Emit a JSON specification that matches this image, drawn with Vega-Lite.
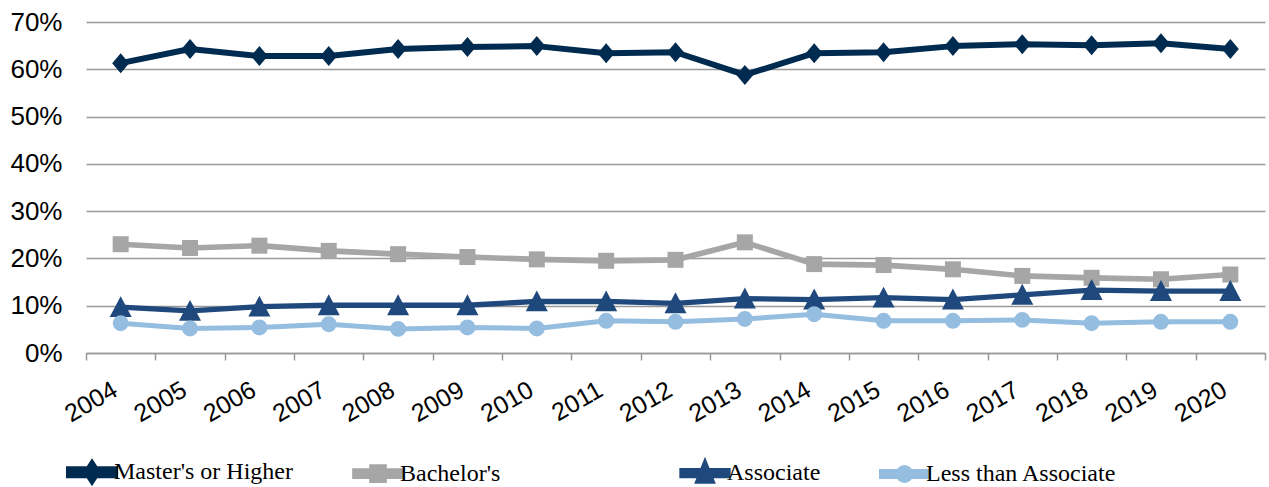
{
  "$schema": "https://vega.github.io/schema/vega-lite/v6.json",
  "autosize": {"type": "none"},
  "padding": {"left": 86, "top": 22, "right": 4, "bottom": 134},
  "width": 1179,
  "height": 331,
  "background": "white",
  "config": {"view": {"stroke": null}},
  "data": {"values": [
    {"year": 2004, "series": "Master's or Higher", "value": 0.613},
    {"year": 2005, "series": "Master's or Higher", "value": 0.643},
    {"year": 2006, "series": "Master's or Higher", "value": 0.628},
    {"year": 2007, "series": "Master's or Higher", "value": 0.628},
    {"year": 2008, "series": "Master's or Higher", "value": 0.643},
    {"year": 2009, "series": "Master's or Higher", "value": 0.647},
    {"year": 2010, "series": "Master's or Higher", "value": 0.649},
    {"year": 2011, "series": "Master's or Higher", "value": 0.634},
    {"year": 2012, "series": "Master's or Higher", "value": 0.636},
    {"year": 2013, "series": "Master's or Higher", "value": 0.588},
    {"year": 2014, "series": "Master's or Higher", "value": 0.634},
    {"year": 2015, "series": "Master's or Higher", "value": 0.636},
    {"year": 2016, "series": "Master's or Higher", "value": 0.649},
    {"year": 2017, "series": "Master's or Higher", "value": 0.653},
    {"year": 2018, "series": "Master's or Higher", "value": 0.651},
    {"year": 2019, "series": "Master's or Higher", "value": 0.655},
    {"year": 2020, "series": "Master's or Higher", "value": 0.643},
    {"year": 2004, "series": "Bachelor's", "value": 0.230},
    {"year": 2005, "series": "Bachelor's", "value": 0.222},
    {"year": 2006, "series": "Bachelor's", "value": 0.227},
    {"year": 2007, "series": "Bachelor's", "value": 0.216},
    {"year": 2008, "series": "Bachelor's", "value": 0.209},
    {"year": 2009, "series": "Bachelor's", "value": 0.203},
    {"year": 2010, "series": "Bachelor's", "value": 0.198},
    {"year": 2011, "series": "Bachelor's", "value": 0.195},
    {"year": 2012, "series": "Bachelor's", "value": 0.197},
    {"year": 2013, "series": "Bachelor's", "value": 0.234},
    {"year": 2014, "series": "Bachelor's", "value": 0.188},
    {"year": 2015, "series": "Bachelor's", "value": 0.186},
    {"year": 2016, "series": "Bachelor's", "value": 0.177},
    {"year": 2017, "series": "Bachelor's", "value": 0.163},
    {"year": 2018, "series": "Bachelor's", "value": 0.159},
    {"year": 2019, "series": "Bachelor's", "value": 0.156},
    {"year": 2020, "series": "Bachelor's", "value": 0.166},
    {"year": 2004, "series": "Associate", "value": 0.097},
    {"year": 2005, "series": "Associate", "value": 0.089},
    {"year": 2006, "series": "Associate", "value": 0.098},
    {"year": 2007, "series": "Associate", "value": 0.101},
    {"year": 2008, "series": "Associate", "value": 0.101},
    {"year": 2009, "series": "Associate", "value": 0.101},
    {"year": 2010, "series": "Associate", "value": 0.109},
    {"year": 2011, "series": "Associate", "value": 0.109},
    {"year": 2012, "series": "Associate", "value": 0.105},
    {"year": 2013, "series": "Associate", "value": 0.115},
    {"year": 2014, "series": "Associate", "value": 0.113},
    {"year": 2015, "series": "Associate", "value": 0.117},
    {"year": 2016, "series": "Associate", "value": 0.113},
    {"year": 2017, "series": "Associate", "value": 0.123},
    {"year": 2018, "series": "Associate", "value": 0.133},
    {"year": 2019, "series": "Associate", "value": 0.131},
    {"year": 2020, "series": "Associate", "value": 0.131},
    {"year": 2004, "series": "Less than Associate", "value": 0.063},
    {"year": 2005, "series": "Less than Associate", "value": 0.052},
    {"year": 2006, "series": "Less than Associate", "value": 0.054},
    {"year": 2007, "series": "Less than Associate", "value": 0.061},
    {"year": 2008, "series": "Less than Associate", "value": 0.051},
    {"year": 2009, "series": "Less than Associate", "value": 0.054},
    {"year": 2010, "series": "Less than Associate", "value": 0.052},
    {"year": 2011, "series": "Less than Associate", "value": 0.068},
    {"year": 2012, "series": "Less than Associate", "value": 0.066},
    {"year": 2013, "series": "Less than Associate", "value": 0.072},
    {"year": 2014, "series": "Less than Associate", "value": 0.082},
    {"year": 2015, "series": "Less than Associate", "value": 0.068},
    {"year": 2016, "series": "Less than Associate", "value": 0.068},
    {"year": 2017, "series": "Less than Associate", "value": 0.070},
    {"year": 2018, "series": "Less than Associate", "value": 0.063},
    {"year": 2019, "series": "Less than Associate", "value": 0.066},
    {"year": 2020, "series": "Less than Associate", "value": 0.066}
  ]},
  "encoding": {
    "x": {
      "field": "year", "type": "ordinal", "bandPosition": 0.5,
      "scale": {"type": "band", "paddingInner": 0, "paddingOuter": 0},
      "axis": {
        "title": null, "labelAngle": -30, "labelFont": "Liberation Sans", "labelFontSize": 25,
        "labelColor": "#000000", "tickBand": "extent", "tickColor": "#999999", "tickSize": 7,
        "tickWidth": 1.5, "domainColor": "#999999", "domainWidth": 1.5, "grid": false,
        "labelPadding": 17, "labelOffset": -12
      }
    },
    "y": {
      "field": "value", "type": "quantitative",
      "scale": {"domain": [0, 0.7], "nice": false},
      "axis": {
        "title": null, "values": [0, 0.1, 0.2, 0.3, 0.4, 0.5, 0.6, 0.7], "format": ".0%",
        "domain": false, "ticks": false, "labelPadding": 24, "labelFont": "Liberation Sans",
        "labelFontSize": 26, "labelColor": "#000000", "gridColor": "#999999", "gridWidth": 1.5
      }
    }
  },
  "layer": [
    {
      "mark": {"type": "line", "strokeCap": "round", "strokeJoin": "round"},
      "encoding": {
        "color": {
          "field": "series", "type": "nominal",
          "scale": {"domain": ["Master's or Higher", "Bachelor's", "Associate", "Less than Associate"],
                    "range": ["#002b50", "#a6a6a6", "#1f497d", "#95bde0"]},
          "legend": {
            "orient": "none", "legendX": -20, "legendY": 424, "direction": "horizontal",
            "title": null, "padding": 0, "labelFont": "Liberation Serif", "labelFontSize": 24,
            "labelColor": "#000000", "labelLimit": 500, "symbolSize": 2116, "labelOffset": -4,
            "columnPadding": 50,
            "labelExpr": "indexof(datum.label, 'Bach') == 0 ? datum.label + '\u00a0\u00a0\u00a0\u00a0\u00a0\u00a0\u00a0\u00a0\u00a0\u00a0\u00a0\u00a0\u00a0\u00a0\u00a0\u00a0\u00a0\u00a0\u00a0\u00a0\u200d' : datum.label",
            "encode": {
              "symbols": {
                "update": {
                  "shape": {"signal": "indexof(datum.value, 'Master') == 0 ? 'M-1,-0.13H1V0.13H-1Z M0,-0.37L0.24,0L0,0.37L-0.24,0Z' : indexof(datum.value, 'Bach') == 0 ? 'M-1,-0.11H1V0.11H-1Z M-0.26,-0.28H0.26V0.28H-0.26Z' : datum.value == 'Associate' ? 'M-1,-0.11H1V0.11H-1Z M0,-0.4L0.3,0.35L-0.3,0.35Z' : 'M-1,-0.11H1V0.11H-1Z M-0.28,0A0.28,0.28 0 1,1 0.28,0A0.28,0.28 0 1,1 -0.28,0Z'"},
                  "fill": {"signal": "scale('color', datum.value)"},
                  "stroke": {"value": "transparent"},
                  "strokeWidth": {"value": 0},
                  "opacity": {"value": 1},
                  "size": {"value": 2116}
                }
              }
            }
          }
        },
        "strokeWidth": {
          "field": "series", "type": "nominal",
          "scale": {"domain": ["Master's or Higher", "Bachelor's", "Associate", "Less than Associate"], "range": [6, 5, 5, 5]},
          "legend": null
        }
      }
    },
    {
      "transform": [{"filter": "datum.series == 'Master\\'s or Higher'"}],
      "mark": {"type": "point", "filled": true, "opacity": 1, "strokeWidth": 0, "color": "#002b50", "shape": "M0,-1L0.85,0L0,1L-0.85,0Z", "size": 400}
    },
    {
      "transform": [{"filter": "datum.series == 'Bachelor\\'s'"}],
      "mark": {"type": "point", "filled": true, "opacity": 1, "strokeWidth": 0, "color": "#a6a6a6", "shape": "square", "size": 256}
    },
    {
      "transform": [{"filter": "datum.series == 'Associate'"}],
      "mark": {"type": "point", "filled": true, "opacity": 1, "strokeWidth": 0, "color": "#1f497d", "shape": "M0,-1L1,0.9L-1,0.9Z", "size": 484}
    },
    {
      "transform": [{"filter": "datum.series == 'Less than Associate'"}],
      "mark": {"type": "point", "filled": true, "opacity": 1, "strokeWidth": 0, "color": "#95bde0", "shape": "circle", "size": 254}
    }
  ]
}
